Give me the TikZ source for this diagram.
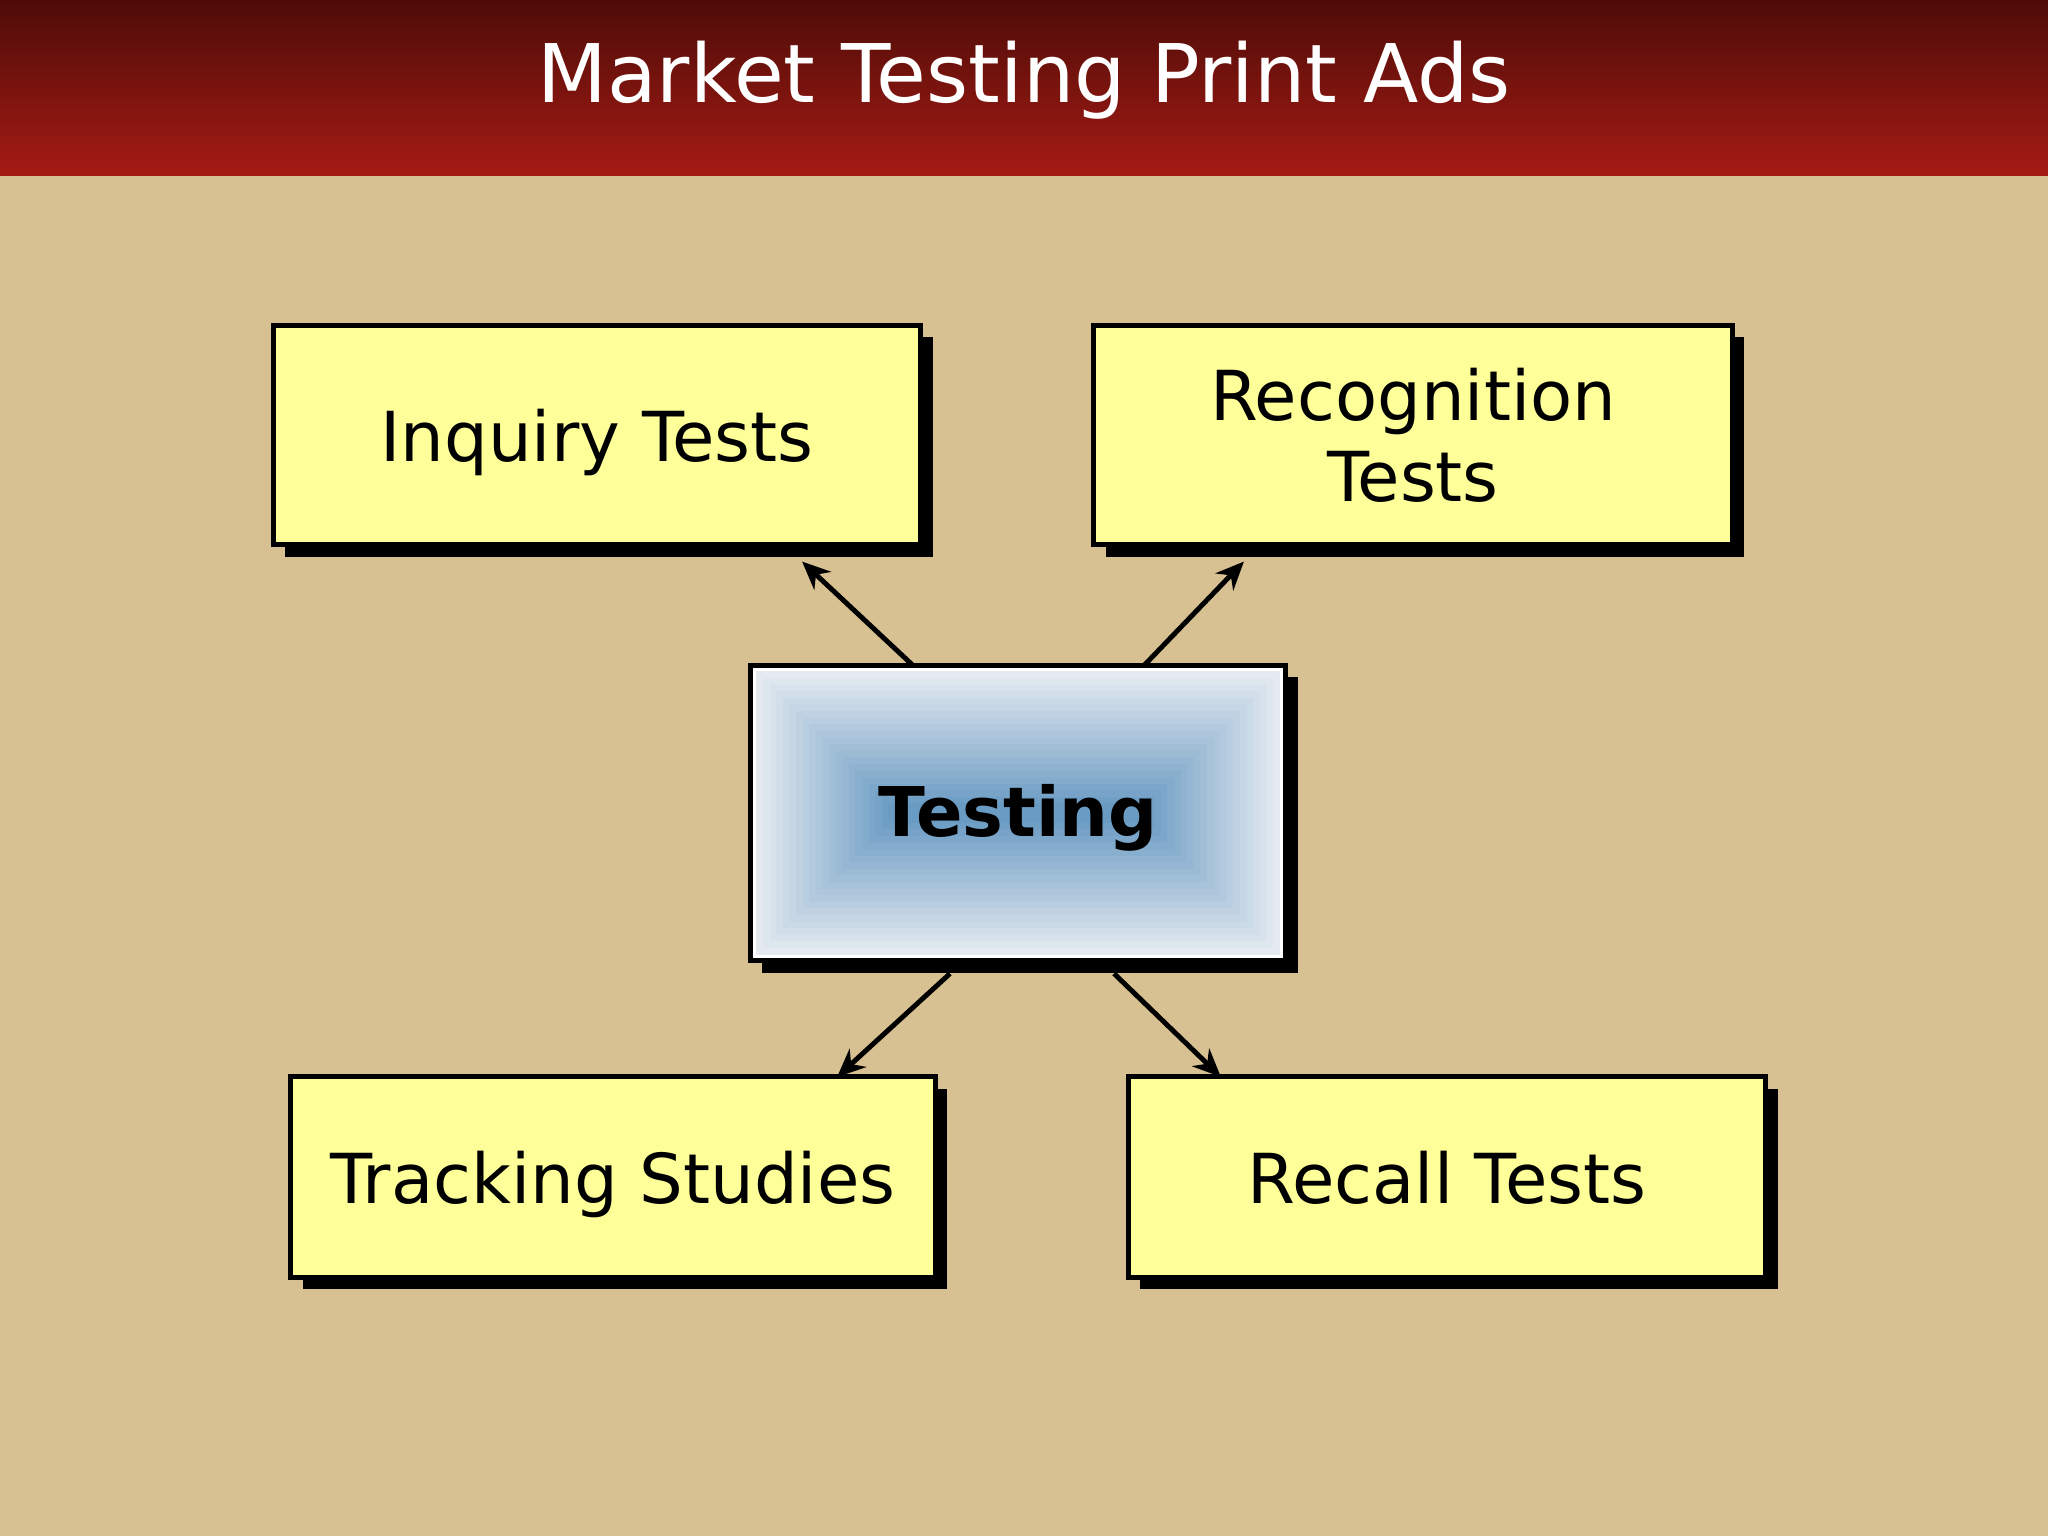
\documentclass[tikz,border=0pt]{standalone}
\usepackage{fontspec}
\setmainfont{DejaVu Sans}
\usetikzlibrary{arrows.meta,shadows,calc}
\definecolor{bgtan}{HTML}{D7C091}
\definecolor{hdtop}{HTML}{4E0C08}
\definecolor{hdbot}{HTML}{A51B14}
\definecolor{boxyellow}{HTML}{FFFF99}
\definecolor{coreblue}{HTML}{6A9BC3}
\definecolor{edgeblue}{HTML}{E4EAF0}
\begin{document}
\begin{tikzpicture}[x=0.01cm,y=-0.01cm,inner sep=0pt,outer sep=0pt,
ybox/.style={draw,rectangle,line width=1.4pt,fill=boxyellow,align=center,text depth=0pt,
  font=\fontsize{19.6}{23}\selectfont,
  drop shadow={shadow xshift=0.12cm,shadow yshift=-0.12cm,fill=black,opacity=1}},
tbox/.style={draw,rectangle,line width=1.4pt,fill=white,minimum width=5.35cm,minimum height=2.95cm,
  text depth=1.5pt,font=\fontsize{19.5}{23}\selectfont\bfseries,
  drop shadow={shadow xshift=0.12cm,shadow yshift=-0.12cm,fill=black,opacity=1}},
arr/.style={line width=1.4pt,-{Stealth[length=8pt,width=7pt]}}]
\useasboundingbox (0,0) rectangle (2048,1536);
\fill[bgtan] (0,0) rectangle (2048,1536);
\shade[top color=hdtop,bottom color=hdbot] (0,0) rectangle (2048,175);
\draw (1024,102) node[anchor=base,text=white,font=\fontsize{23}{27}\selectfont] (title) {Market Testing Print Ads};
% the four test kinds
\draw (597,435) node[ybox,minimum width=6.47cm,minimum height=2.19cm] (inq) {Inquiry Tests};
\draw (1413,435) node[ybox,minimum width=6.38cm,minimum height=2.19cm] (recog) {Recognition\\Tests};
\draw (613,1177) node[ybox,minimum width=6.44cm,minimum height=2.0cm] (track) {Tracking Studies};
\draw (1447,1177) node[ybox,minimum width=6.37cm,minimum height=2.0cm] (recall) {Recall Tests};
% centre box with stepped blue shading
\draw (1018,813) node[tbox,path picture={
  \foreach \k in {0,...,20}{
    \pgfmathsetmacro\d{6+6.6*\k}
    \pgfmathtruncatemacro\p{5*\k}
    \fill[coreblue!\p!edgeblue] ($(path picture bounding box.south west)+(\d,-\d)$)
      rectangle ($(path picture bounding box.north east)+(-\d,\d)$);
  }}] (test) {Testing};
\draw[arr] ([xshift=-1.05cm]test.north) -- ([xshift=2.05cm,yshift=-0.17cm]inq.south);
\draw[arr] ([xshift=1.26cm]test.north) -- ([xshift=-1.69cm,yshift=-0.17cm]recog.south);
\draw[arr] ([xshift=-0.68cm,yshift=-0.13cm]test.south) -- ([xshift=2.24cm]track.north);
\draw[arr] ([xshift=0.96cm,yshift=-0.13cm]test.south) -- ([xshift=-2.26cm]recall.north);
\end{tikzpicture}
\end{document}
